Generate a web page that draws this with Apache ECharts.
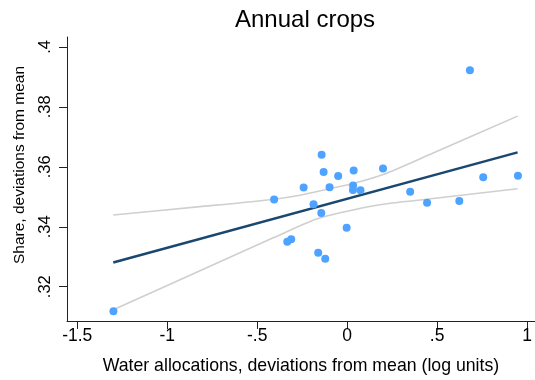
<!DOCTYPE html>
<html>
<head>
<meta charset="utf-8">
<script src="https://cdn.jsdelivr.net/npm/echarts@6.0.0/dist/echarts.min.js"></script>
<style>
  html, body { margin: 0; padding: 0; background: #fff; }
  #root { width: 535px; height: 380px; }
</style>
</head>
<body>
<div id="root"></div>
<script>
// scatter points: water allocations (log dev) vs share (dev from mean)
var waterX = [-0.142, -0.131, -0.050, 0.036, 0.199, -0.242, -0.098, 0.033, 0.032, 0.074,
              -0.406, -0.187, -0.144, -0.003, -0.333, -0.311, -0.161, -0.122,
              0.350, 0.444, 0.623, 0.756, 0.949, 0.682, -1.299];
var shareY = [0.3640, 0.3583, 0.3569, 0.3588, 0.3594, 0.3531, 0.3532, 0.3538, 0.3523, 0.3522,
              0.3491, 0.3475, 0.3446, 0.3397, 0.3350, 0.3358, 0.3313, 0.3293,
              0.3517, 0.3480, 0.3486, 0.3565, 0.3570, 0.3922, 0.3118];

// fitted line
var fitX = [-1.300, 0.947];
var fitY = [0.3281, 0.3648];

// confidence band
var ciUpX = [-1.300, -0.818, -0.406, -0.263, -0.096, 0.033, 0.200, 0.478, 0.947];
var ciUpY = [0.3439, 0.3467, 0.3492, 0.3505, 0.3527, 0.3544, 0.3574, 0.3646, 0.3769];
var ciLoX = [-1.300, -0.818, -0.411, -0.170, 0.033, 0.200, 0.478, 0.947];
var ciLoY = [0.3123, 0.3253, 0.3363, 0.3426, 0.3456, 0.3475, 0.3494, 0.3527];

// tick labels (stata style)
var xTicks = [-1.5, -1, -0.5, 0, 0.5, 1];
var xTickLabels = ['-1.5', '-1', '-.5', '0', '.5', '1'];
var yTicks = [0.32, 0.34, 0.36, 0.38, 0.4];
var yTickLabels = ['.32', '.34', '.36', '.38', '.4'];

function pairs(xs, ys) {
  return xs.map(function (x, i) { return [x, ys[i]]; });
}
function lookup(ticks, labels) {
  return function (v) {
    for (var i = 0; i < ticks.length; i++) {
      if (Math.abs(ticks[i] - v) < 1e-6) return labels[i];
    }
    return '';
  };
}

var font = '"Liberation Sans", Arial, sans-serif';
var myChart = echarts.init(document.getElementById('root'), null, { renderer: 'canvas' });

var option = {
  animation: false,
  backgroundColor: '#fff',
  title: {
    text: 'Annual crops',
    left: 230,
    top: 3,
    textStyle: { fontFamily: font, fontSize: 24, fontWeight: 'normal', color: '#000' }
  },
  grid: { left: 67, top: 37, right: 0, bottom: 56 },
  xAxis: {
    type: 'value',
    min: -1.557,
    max: 1.043,
    name: 'Water allocations, deviations from mean (log units)',
    nameLocation: 'middle',
    nameGap: 36,
    nameTextStyle: { fontFamily: font, fontSize: 17.7, color: '#000' },
    axisLine: { onZero: false, lineStyle: { color: '#222', width: 1 } },
    axisTick: { show: true, length: 8, customValues: xTicks, lineStyle: { color: '#222' } },
    axisLabel: {
      customValues: xTicks,
      formatter: lookup(xTicks, xTickLabels),
      fontFamily: font, fontSize: 17.5, color: '#000', margin: 6
    },
    splitLine: { show: false }
  },
  yAxis: {
    type: 'value',
    min: 0.30856,
    max: 0.4033,
    name: 'Share, deviations from mean',
    nameLocation: 'middle',
    nameGap: 39,
    nameTextStyle: { fontFamily: font, fontSize: 15.5, color: '#000', padding: [0, 0, 0, 28] },
    axisLine: { onZero: false, lineStyle: { color: '#222', width: 1 } },
    axisTick: { show: true, length: 8, customValues: yTicks, lineStyle: { color: '#222' } },
    axisLabel: {
      customValues: yTicks,
      formatter: lookup(yTicks, yTickLabels),
      rotate: 90,
      fontFamily: font, fontSize: 16.5, color: '#000', margin: 13
    },
    splitLine: { show: false }
  },
  series: [
    {
      name: 'upper', type: 'line', data: pairs(ciUpX, ciUpY),
      showSymbol: false, smooth: 0.25,
      lineStyle: { color: '#cfcfcf', width: 1.6 }, z: 2
    },
    {
      name: 'lower', type: 'line', data: pairs(ciLoX, ciLoY),
      showSymbol: false, smooth: 0.25,
      lineStyle: { color: '#cfcfcf', width: 1.6 }, z: 2
    },
    {
      name: 'fit', type: 'line', data: pairs(fitX, fitY),
      showSymbol: false,
      lineStyle: { color: '#1a476f', width: 2.5 }, z: 3
    },
    {
      name: 'points', type: 'scatter', data: pairs(waterX, shareY),
      symbolSize: 8,
      itemStyle: { color: '#4da3ff', opacity: 1 }, z: 4
    }
  ]
};
option && myChart.setOption(option);
</script>
</body>
</html>
